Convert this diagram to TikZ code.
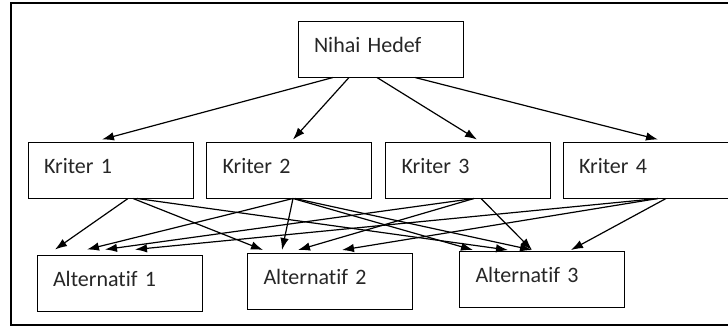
\documentclass[tikz,border=0pt]{standalone}
\usepackage{fontspec}
\setmainfont{Carlito}[Ligatures={NoCommon,NoRare}]
\usetikzlibrary{arrows.meta,calc}
\tikzset{
  kutu/.style={draw, line width=1pt, minimum height=56pt, text width=133pt, inner xsep=16pt,
    align=left, text height=15pt, text depth=9pt, text=black!85, font=\fontsize{22}{26}\selectfont},
  ok/.style={-{Latex[length=12pt,width=8.5pt]}, line width=1.2pt},
}
\begin{document}
\begin{tikzpicture}[x=1pt,y=-1pt]
  \useasboundingbox (0,0) rectangle (728,329);

  % Cerceve
  \draw [line width=2.5pt] (740,3) -- (11,3) -- (11,325) -- (740,325);

  % Kutular
  \node [kutu, minimum height=55pt] (hedef) at (380.5,49.5) {Nihai Hedef};
  \node [kutu] (k1) at (110.5,170) {Kriter 1};
  \node [kutu] (k2) at (289,170) {Kriter 2};
  \node [kutu] (k3) at (468,170) {Kriter 3};
  \node [kutu] (k4) at (645.5,170) {Kriter 4};
  \node [kutu] (a1) at (119.5,283) {Alternatif 1};
  \node [kutu] (a2) at (330,281.5) {Alternatif 2};
  \node [kutu] (a3) at (542,279.5) {Alternatif 3};

  % Hedef -> kriterler
  \draw [ok] ($(hedef.south)+(-47.5,0)$) -- ($(k1.north)+(-8.5,-2)$);
  \draw [ok] ($(hedef.south)+(-31.5,0)$) -- ($(k2.north)+(4,-2)$);
  \draw [ok] ($(hedef.south)+(-3.5,0)$) -- ($(k3.north)+(9,-2)$);
  \draw [ok] ($(hedef.south)+(34.5,0)$) -- ($(k4.north)+(12.5,-2)$);

  % Kriterler -> alternatifler
  \draw [ok] ($(k1.south)+(17.5,0)$) -- ($(a1.north)+(-64.5,-5)$);
  \draw [ok] ($(k1.south)+(22.5,0)$) -- ($(a2.north)+(-67,-3)$);
  \draw [ok] ($(k1.south)+(26.5,0)$) -- ($(a3.north)+(-34,-1)$);
  \draw [ok] ($(k2.south)+(4,0)$) -- ($(a1.north)+(-32.5,-5)$);
  \draw [ok] ($(k2.south)+(4,0)$) -- ($(a2.north)+(-48,-3)$);
  \draw [ok] ($(k2.south)+(4,0)$) -- ($(a3.north)+(-69,-1)$);
  \draw [ok] ($(k2.south)+(6,0)$) -- ($(a3.north)+(-10,-1)$);
  \draw [ok] ($(k3.south)+(6,0)$) -- ($(a1.north)+(-14.5,-5)$);
  \draw [ok] ($(k3.south)+(6,0)$) -- ($(a2.north)+(-32,-3)$);
  \draw [ok] ($(k3.south)+(13,0)$) -- ($(a3.north)+(-10,-1)$);
  \draw [ok] ($(k4.south)+(12.5,0)$) -- ($(a1.north)+(15.5,-5)$);
  \draw [ok] ($(k4.south)+(12.5,0)$) -- ($(a2.north)+(12,-3)$);
  \draw [ok] ($(k4.south)+(20.5,0)$) -- ($(a3.north)+(29,-1)$);
\end{tikzpicture}
\end{document}
